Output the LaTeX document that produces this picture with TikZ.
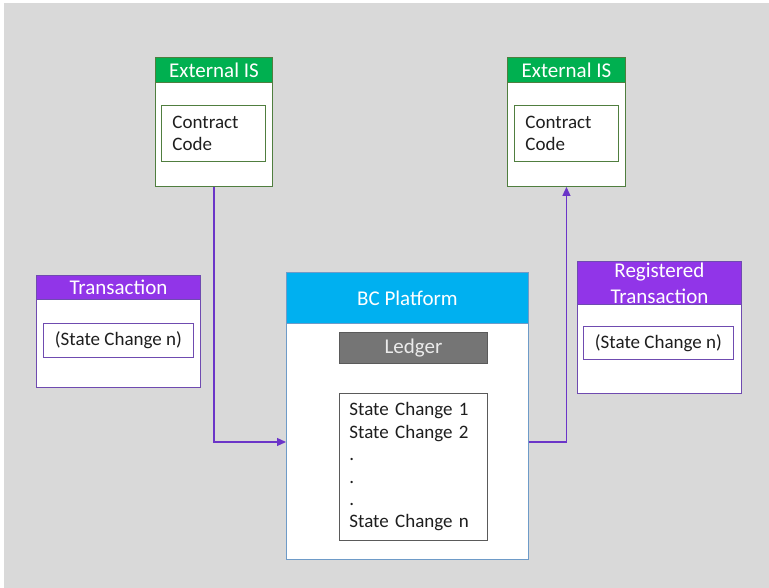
\documentclass[tikz,border=0pt]{standalone}
\usepackage{fontspec}
\setmainfont{Carlito}
\usetikzlibrary{arrows.meta}
\definecolor{bggray}{HTML}{D9D9D9}
\definecolor{hgreen}{HTML}{00B050}
\definecolor{bgreen}{HTML}{507E3F}
\definecolor{hpurple}{HTML}{9135E8}
\definecolor{bpurple}{HTML}{6F4BB0}
\definecolor{hblue}{HTML}{00B0F0}
\definecolor{bblue}{HTML}{6E9BC8}
\definecolor{ledfill}{HTML}{757575}
\definecolor{ledline}{HTML}{5A5A5A}
\definecolor{conncol}{HTML}{6B35C8}
\definecolor{txt}{HTML}{1E1E1E}
\tikzset{
  outerbox/.style={draw, fill=white, line width=0.9pt, rectangle, anchor=north west, inner sep=0pt},
  hdrbox/.style={draw, rectangle, anchor=north west, inner sep=0pt, text=white, line width=0.9pt,
    font=\fontsize{21}{26}\selectfont, align=center},
  innerbox/.style={draw, fill=white, rectangle, anchor=north west, line width=0.9pt, text=txt,
    font=\fontsize{19}{21.5}\selectfont},
  conn/.style={draw=conncol, line width=1.3pt, -{Triangle[length=9pt,width=8pt]}},
}
\begin{document}
\begin{tikzpicture}[x=1pt,y=-1pt]
\useasboundingbox (0,0) rectangle (769,588);
\fill[white] (0,0) rectangle (769,588);
\fill[bggray] (4,3) rectangle (769,588);

% External IS left
\node[outerbox, draw=bgreen, minimum width=117pt, minimum height=129pt] (extL) at (155,57) {};
\node[hdrbox, fill=hgreen, draw=bgreen, minimum width=117pt, minimum height=25pt] (extLh) at (155,57) {External IS};
\node[innerbox, draw=bgreen, minimum width=104pt, minimum height=56pt, text width=82pt, inner xsep=11pt, align=left] (extLc) at (161,105) {Contract\\Code};

% External IS right
\node[outerbox, draw=bgreen, minimum width=118pt, minimum height=129pt] (extR) at (507,57) {};
\node[hdrbox, fill=hgreen, draw=bgreen, minimum width=118pt, minimum height=25pt] (extRh) at (507,57) {External IS};
\node[innerbox, draw=bgreen, minimum width=104pt, minimum height=56pt, text width=82pt, inner xsep=11pt, align=left] (extRc) at (514,105) {Contract\\Code};

% Transaction
\node[outerbox, draw=bpurple, minimum width=164pt, minimum height=112pt] (tx) at (36,275) {};
\node[hdrbox, fill=hpurple, draw=bpurple, minimum width=164pt, minimum height=24pt] (txh) at (36,275) {Transaction};
\node[innerbox, draw=bpurple, minimum width=150pt, minimum height=34pt, inner sep=0pt] (txc) at (43,323) {(State Change n)};

% Registered Transaction
\node[outerbox, draw=bpurple, minimum width=164pt, minimum height=132pt] (rtx) at (577,261) {};
\node[hdrbox, fill=hpurple, draw=bpurple, minimum width=164pt, minimum height=43pt] (rtxh) at (577,261) {Registered\\Transaction};
\node[innerbox, draw=bpurple, minimum width=150pt, minimum height=33pt, inner sep=0pt] (rtxc) at (583,326) {(State Change n)};

% BC Platform
\node[outerbox, draw=bblue, minimum width=242pt, minimum height=287pt] (bc) at (286,272) {};
\node[hdrbox, fill=hblue, draw=bblue, minimum width=242pt, minimum height=51pt] (bch) at (286,272) {BC Platform};
\node[hdrbox, fill=ledfill, draw=ledline, text=white!92!black, minimum width=148pt, minimum height=31pt] (led) at (339,332) {Ledger};
\node[innerbox, draw=ledline, minimum width=148pt, minimum height=147pt, text width=128pt, inner xsep=10pt, align=left,
  font=\fontsize{19}{22.4}\selectfont] (sc) at (339,393)
  {State Change 1\\State Change 2\\.\\.\\.\\State Change n};

% connectors
\coordinate (jl) at (214,442);
\draw[conn] (extL.south) -- (extL.south |- jl) -- (jl -| bc.west);
\draw[conn] (jl -| bc.east) -- (jl -| extR.south) -- (extR.south);
\end{tikzpicture}
\end{document}
